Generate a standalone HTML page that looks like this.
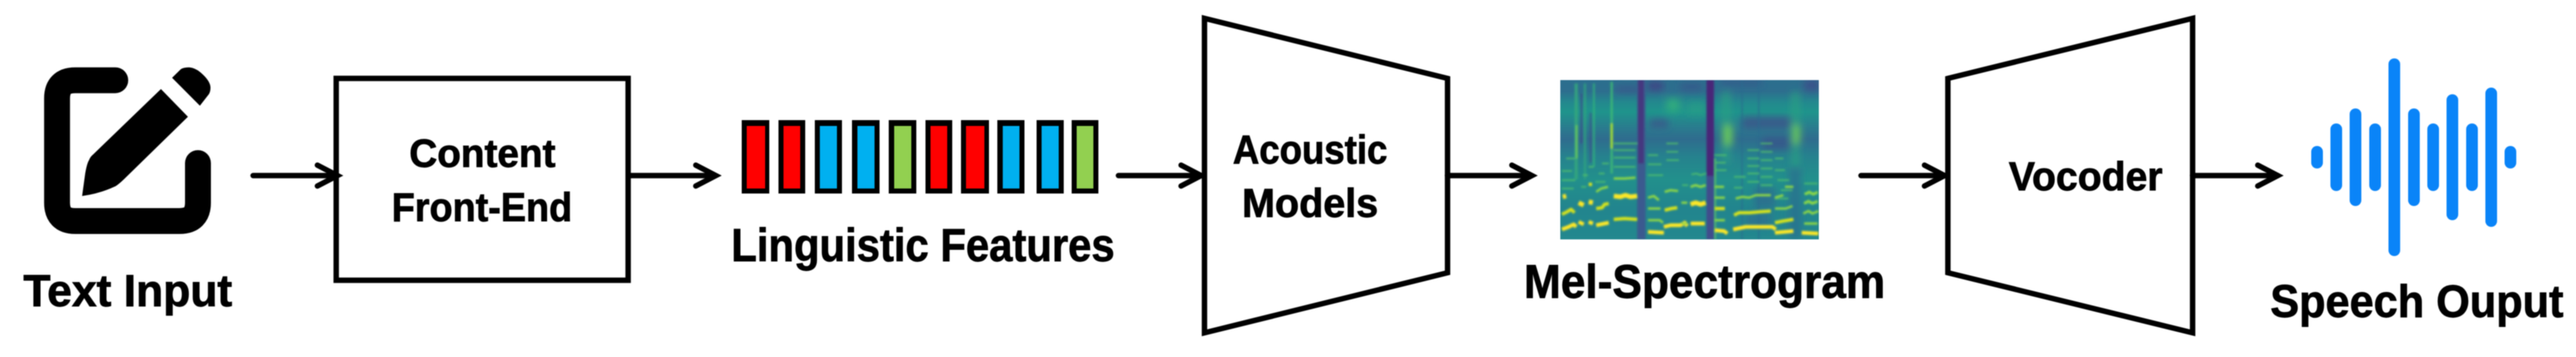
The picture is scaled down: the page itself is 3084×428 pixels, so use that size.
<!DOCTYPE html>
<html><head><meta charset="utf-8"><style>
html,body{margin:0;padding:0;background:#fff}
svg{display:block;filter:blur(.6px)}
text{font-family:"Liberation Sans",Arial,sans-serif;font-weight:bold;fill:#000;stroke:#000;stroke-width:.9}
</style></head><body>
<svg width="3084" height="428" viewBox="0 0 3084 428" xmlns="http://www.w3.org/2000/svg">
<defs>
<clipPath id="sc"><rect x="1868" y="96" width="309.500" height="191"/></clipPath>
<filter id="b1" x="-5%" y="-5%" width="110%" height="110%"><feGaussianBlur stdDeviation="1.1"/></filter>
<filter id="b2" x="-20%" y="-20%" width="140%" height="140%"><feGaussianBlur stdDeviation="4.500"/></filter>
<linearGradient id="bg" x1="0" y1="0" x2="0" y2="1">
<stop offset="0" stop-color="#2c6f8e"/><stop offset=".07" stop-color="#2d6e8e"/><stop offset=".14" stop-color="#23888e"/><stop offset=".2" stop-color="#1f948c"/><stop offset=".3" stop-color="#2a7b8e"/><stop offset=".37" stop-color="#2f6c8e"/><stop offset=".48" stop-color="#26828e"/><stop offset=".62" stop-color="#22908c"/><stop offset=".8" stop-color="#22858e"/><stop offset="1" stop-color="#23888e"/>
</linearGradient>
</defs>

<!-- Icon -->
<path d="M138,96.200H90Q68.300,96.200 68.300,118V243Q68.300,265 90,265H215Q237,265 237,243V195.500" fill="none" stroke="#000" stroke-width="31" stroke-linecap="round"/>
<path d="M98.300,235L102,208Q104,196 106.700,191.700Q108,188 111.700,185L192.700,106.700L225,140L148.300,215Q142,221 138.300,223.300Q120,232 98.300,235Z" fill="#000"/>
<path d="M206,93.300L216.700,82.700Q220,80.700 226.700,80.700Q234,81.500 240,86.700Q252,97 252,105Q252,110 250,113L239.300,126.700Z" fill="#000"/>
<text x="28" y="367" font-size="54" textLength="250" lengthAdjust="spacingAndGlyphs">Text Input</text>

<!-- Front-end box -->
<rect x="402.500" y="94" width="349.500" height="242" fill="#fff" stroke="#000" stroke-width="6.500"/>
<text x="490" y="200" font-size="47" textLength="175" lengthAdjust="spacingAndGlyphs">Content</text>
<text x="469" y="265" font-size="48" textLength="216" lengthAdjust="spacingAndGlyphs">Front-End</text>

<!-- Feature bars -->
<g fill="#000">
<rect x="888" y="144" width="33" height="88"/><rect x="932" y="144" width="32" height="88"/><rect x="975.500" y="144" width="32.500" height="88"/><rect x="1020" y="144" width="33" height="88"/><rect x="1064" y="144" width="33" height="88"/><rect x="1108" y="144" width="32" height="88"/><rect x="1150.500" y="144" width="33.500" height="88"/><rect x="1194" y="144" width="32.500" height="88"/><rect x="1241" y="144" width="32.500" height="88"/><rect x="1283" y="144" width="32" height="88"/>
</g>
<g>
<rect x="894" y="151" width="22" height="75" fill="#ff0000"/><rect x="938" y="151" width="20" height="75" fill="#ff0000"/><rect x="981.500" y="151" width="20.500" height="75" fill="#00b0f0"/><rect x="1026.500" y="151" width="20.500" height="75" fill="#00b0f0"/><rect x="1070.500" y="151" width="20.500" height="75" fill="#92d050"/><rect x="1114" y="151" width="20" height="75" fill="#ff0000"/><rect x="1156.500" y="151" width="22" height="75" fill="#ff0000"/><rect x="1200.500" y="151" width="20" height="75" fill="#00b0f0"/><rect x="1247" y="151" width="20.500" height="75" fill="#00b0f0"/><rect x="1289" y="151" width="20" height="75" fill="#92d050"/>
</g>
<text x="875.500" y="313" font-size="56" textLength="459" lengthAdjust="spacingAndGlyphs">Linguistic Features</text>

<!-- Acoustic trapezoid -->
<path d="M1442,22L1733,94V327L1442,399Z" fill="#fff" stroke="#000" stroke-width="6.500" stroke-linejoin="miter"/>
<text x="1476" y="196" font-size="48" textLength="185" lengthAdjust="spacingAndGlyphs">Acoustic</text>
<text x="1487" y="260" font-size="48" textLength="163" lengthAdjust="spacingAndGlyphs">Models</text>

<!-- Vocoder trapezoid -->
<path d="M2332,94L2625,22V399L2332,327Z" fill="#fff" stroke="#000" stroke-width="6.500"/>
<text x="2405" y="228" font-size="48" textLength="184" lengthAdjust="spacingAndGlyphs">Vocoder</text>

<!-- Arrows -->
<g fill="none" stroke="#000" stroke-width="6.500" stroke-linecap="round">
<path d="M303,210.500H403"/><path d="M380,198L404,210.500L380,223"/>
<path d="M755,210.500H856"/><path d="M833,198L857,210.500L833,223"/>
<path d="M1339,210.500H1437"/><path d="M1414,198L1438,210.500L1414,223"/>
<path d="M1733,210.500H1833"/><path d="M1810,198L1834,210.500L1810,223"/>
<path d="M2228,210.500H2328"/><path d="M2304,198L2328,210.500L2304,223"/>
<path d="M2625,210.500H2727"/><path d="M2703,198L2727,210.500L2703,223"/>
</g>

<!-- Spectrogram -->
<g clip-path="url(#sc)">
<rect x="1868" y="96" width="310" height="191" fill="url(#bg)"/>
<g filter="url(#b2)">
<rect x="1935" y="104" width="28" height="6" fill="#3e4989" opacity=".7"/>
<rect x="1973" y="98" width="18" height="10" fill="#453781" opacity=".8"/>
<rect x="1975" y="143" width="22" height="10" fill="#3e4989" opacity=".7"/>
<rect x="2012" y="100" width="26" height="8" fill="#3e4989" opacity=".6"/>
<rect x="2060" y="96" width="50" height="6" fill="#3e4989" opacity=".6"/>
<rect x="2085" y="140" width="60" height="14" fill="#3e4989" opacity=".7"/>
<rect x="2110" y="165" width="35" height="14" fill="#3e4989" opacity=".6"/>
<rect x="2160" y="96" width="18" height="12" fill="#3e4989" opacity=".8"/>
<rect x="2090" y="255" width="30" height="18" fill="#2f6c8e" opacity=".7"/>
<rect x="2100" y="225" width="25" height="24" fill="#31688e" opacity=".7"/>
<rect x="2142" y="200" width="14" height="87" fill="#2a6f8e" opacity=".8"/>
<rect x="2020" y="122" width="22" height="16" fill="#25a085" opacity=".6"/>
<rect x="1995" y="118" width="16" height="16" fill="#35b779" opacity=".7"/>
<rect x="2062" y="110" width="9" height="85" fill="#2aa083" opacity=".8"/>
<rect x="2063" y="150" width="11" height="24" fill="#6ece58" opacity=".9"/>
<rect x="2145" y="110" width="9" height="90" fill="#2aa083" opacity=".8"/>
<rect x="2146" y="150" width="9" height="22" fill="#6ece58" opacity=".9"/>
</g>
<g filter="url(#b1)">
<rect x="1885" y="100" width="4" height="115" fill="#35a97c" opacity=".8"/>
<rect x="1886" y="150" width="3" height="40" fill="#6ece58" opacity=".7"/>
<rect x="1896" y="100" width="3" height="115" fill="#2fa57e" opacity=".7"/>
<rect x="1892" y="112" width="3" height="60" fill="#3e4989" opacity=".6"/>
<rect x="1903" y="135" width="3" height="60" fill="#3e4989" opacity=".5"/>
<rect x="1907" y="100" width="2.500" height="100" fill="#35b779" opacity=".7"/>
<rect x="1928" y="98" width="3" height="110" fill="#3fbc73" opacity=".8"/>
<rect x="1928" y="148" width="3" height="30" fill="#a0da39"/>
<rect x="1960" y="96" width="10" height="191" fill="#3b5a8f"/>
<rect x="1961" y="96" width="7" height="100" fill="#45397f"/>
<rect x="2043" y="96" width="9" height="191" fill="#3f4e8c"/>
<rect x="2043" y="96" width="9" height="115" fill="#482878"/>
<rect x="2053" y="190" width="1.200" height="97" fill="#6ece58"/>
<rect x="2105" y="96" width="1.200" height="191" fill="#2a6b8e"/>
<rect x="2085" y="96" width="1.200" height="191" fill="#2a6b8e"/>
<!-- upper harmonic ticks -->
<g fill="none" stroke="#55c667" stroke-width="1.800" opacity=".85">
<path d="M1870,205h12M1870,216h16M1870,226h14M1875,190h10"/>
<path d="M1895,210h6M1893,224h6M1902,200h6M1914,208h7M1918,196h8M1910,218h12"/>
<path d="M1932,172h28M1932,180h26M1932,189h26M1932,200h26"/>
<path d="M1973,210h18M1973,197h16M1973,186h12M1995,172h14M1995,182h14M1995,192h15"/>
<path d="M2014,222h7M2025,209l6,-1 5,2 6,-2M2053,186h14M2053,195h13M2053,204h14M2076,212h14"/>
<path d="M2076,225h10M2092,180h14M2092,190h14M2092,199h14M2092,208h14M2092,218h14M2108,172h14M2108,182h14M2108,192h14M2108,202h14M2108,212h14M2108,222h14"/>
<path d="M2125,190h10M2125,204h12M2128,216h14M2132,228h14M2125,238h16M2160,220h16M2160,232h16M2160,243h16"/>
</g>
</g>
<!-- yellow harmonics -->
<g filter="url(#b1)" fill="none" stroke-linecap="butt" stroke-linejoin="round">
<g stroke="#fde725" stroke-width="4.500">
<path d="M1870,275L1878,272L1884,269L1887,272"/>
<path d="M1890,266L1896,269"/>
<path d="M1902,266L1907,268"/>
<path d="M1911,270L1926,267"/>
<path d="M1973,278L1992,279"/>
<path d="M1992,272L2000,270L2012,270L2017,267L2020,271"/>
<path d="M2053,276L2064,277L2068,280"/>
<path d="M2075,275L2090,272L2122,272L2126,275"/>
<path d="M2125,279L2147,277"/>
<path d="M2157,279L2177,280"/>
<path d="M2024,268h17"/>
</g>
<g stroke="#fde725" stroke-width="5.500">
<path d="M1932,235L1940,236L1946,234L1952,236L1960,235"/>
<path d="M1890,243L1896,246M1902,242L1907,243M2024,245L2030,243L2036,245L2042,243"/>
<path d="M1871,236L1875,235"/>
</g>
<g stroke="#d5e21a" stroke-width="4">
<path d="M1932,263L1945,262L1960,263"/>
<path d="M1911,250L1918,249L1921,245L1926,244"/>
<path d="M1870,257L1876,254L1881,251L1885,255"/>
<path d="M1993,252L2001,250L2008,249"/>
<path d="M2076,258L2082,255L2095,255L2106,254L2120,253"/>
<path d="M2125,267L2135,265L2147,263"/>
<path d="M2053,250h12"/>
<path d="M1902,221h4"/>
</g>
<g stroke="#8fd744" stroke-width="2.800">
<path d="M1973,264L1987,264L1991,267"/>
<path d="M1973,250h15"/>
<path d="M1973,237L1980,235L1986,240"/>
<path d="M1932,214L1945,214L1958,213"/>
<path d="M1911,230L1917,226L1925,224"/>
<path d="M1993,230L2000,228L2009,229"/>
<path d="M2024,224L2030,222L2036,224L2042,222"/>
<path d="M2053,264h12M2053,237h12M2053,224h11"/>
<path d="M2078,238L2086,236L2094,237L2102,234L2120,234"/>
<path d="M2125,250L2138,250L2146,247"/>
<path d="M2125,237L2135,234M2137,224h10"/>
<path d="M2160,268L2176,268"/>
<path d="M2159,256L2165,253L2170,256L2177,253"/>
<path d="M2160,244L2165,241L2170,244L2176,241M2161,233L2166,230L2171,233L2176,230"/>
<path d="M2013,243h7M2013,268h7"/>
</g>
</g>
</g>
<text x="1824.500" y="357" font-size="57" textLength="432.500" lengthAdjust="spacingAndGlyphs">Mel-Spectrogram</text>

<!-- Waveform -->
<g fill="#0a84f8">
<rect x="2767" y="175" width="14" height="27" rx="7"/>
<rect x="2790" y="148" width="14" height="81" rx="7"/>
<rect x="2813" y="130" width="14" height="117" rx="7"/>
<rect x="2836.500" y="148" width="14" height="81" rx="7"/>
<rect x="2859.500" y="70" width="14" height="237" rx="7"/>
<rect x="2883" y="130" width="14" height="117" rx="7"/>
<rect x="2906" y="148" width="14" height="81" rx="7"/>
<rect x="2929" y="113" width="14" height="151" rx="7"/>
<rect x="2952.500" y="148" width="14" height="81" rx="7"/>
<rect x="2975.500" y="105" width="14" height="167" rx="7"/>
<rect x="2998.500" y="175" width="14" height="27" rx="7"/>
</g>
<text x="2718" y="380" font-size="55" textLength="351" lengthAdjust="spacingAndGlyphs">Speech Ouput</text>
</svg>
</body></html>
